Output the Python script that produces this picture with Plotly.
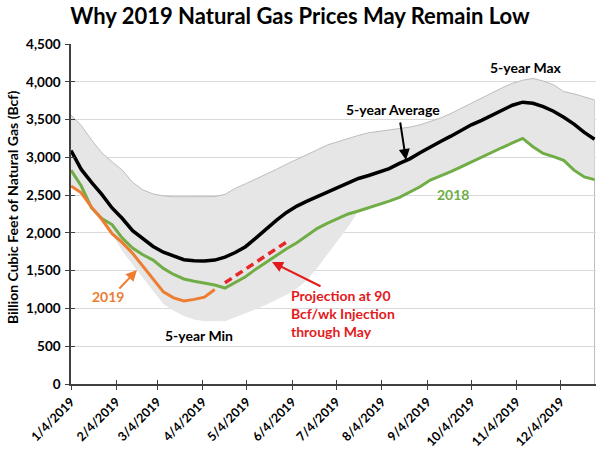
import pandas as pd
import plotly.graph_objects as go

# ---------------- data (Bcf, weekly, Fridays) ----------------
week_start = "2019-01-04"
n_weeks = 52
weeks = pd.date_range(week_start, periods=n_weeks, freq="7D")

max5 = [3560, 3420, 3230, 3060, 2940, 2830, 2670, 2570, 2515, 2490, 2478, 2478, 2478, 2478,
        2480, 2510, 2589, 2650, 2710, 2780, 2840, 2910, 2970, 3030, 3100, 3165, 3210, 3245,
        3290, 3325, 3345, 3360, 3375, 3400, 3430, 3470, 3520, 3580, 3650, 3720, 3785, 3860,
        3920, 3980, 4020, 4044, 4010, 3960, 3870, 3840, 3800, 3760]
min5 = [2640, 2545, 2360, 2180, 1980, 1760, 1580, 1400, 1230, 1060, 970, 900, 855, 830,
        835, 830, 880, 935, 990, 1050, 1110, 1180, 1260, 1380, 1540, 1720, 1900, 2080,
        2290, 2330, 2380, 2420, 2470, 2540, 2610, 2700, 2750, 2810, 2875, 2940, 3010, 3070,
        3130, 3190, 3250, 3140, 3052, 3010, 2960, 2830, 2740, 2705]
avg5 = [3090, 2840, 2670, 2510, 2330, 2190, 2030, 1920, 1820, 1745, 1690, 1645, 1630, 1627,
        1640, 1680, 1740, 1817, 1930, 2050, 2165, 2270, 2355, 2420, 2480, 2530, 2590, 2660,
        2720, 2760, 2800, 2850, 2920, 2980, 3060, 3140, 3210, 3280, 3360, 3430, 3490, 3560,
        3630, 3690, 3730, 3715, 3670, 3610, 3530, 3440, 3330, 3240]
y2018 = [2830, 2620, 2330, 2190, 2110, 1930, 1800, 1710, 1640, 1530, 1450, 1390, 1360, 1340,
         1310, 1270, 1340, 1420, 1520, 1610, 1710, 1790, 1870, 1970, 2060, 2130, 2195, 2250,
         2290, 2330, 2380, 2420, 2470, 2540, 2610, 2700, 2750, 2810, 2875, 2940, 3010, 3070,
         3130, 3190, 3250, 3140, 3052, 3010, 2960, 2830, 2740, 2705]
y2019 = [2620, 2530, 2340, 2180, 1990, 1870, 1730, 1560, 1400, 1220, 1140, 1100, 1120, 1150, 1250]
projection = [1340, 1430, 1520, 1610, 1700, 1790, 1880]   # 90 Bcf/wk, Apr 19 - May 31

x_ticks = ["2019-%02d-04" % m for m in range(1, 13)]
x_tick_labels = ["%d/4/2019" % m for m in range(1, 13)]
y_ticks = [0, 500, 1000, 1500, 2000, 2500, 3000, 3500, 4000, 4500]

# ---------------- styling ----------------
FONT = "Lato"
W, H = 600, 455
L, R, T, B = 71, 4, 44, 71
PW, PH = W - L - R, H - T - B


def px(x, y):
    return (x - L) / PW, (H - B - y) / PH


fig = go.Figure()
fig.add_trace(go.Scatter(x=weeks, y=min5, mode="lines", line=dict(width=0, color="#e6e6e6"),
                         hoverinfo="skip", showlegend=False))
fig.add_trace(go.Scatter(x=weeks, y=max5, mode="lines", fill="tonexty", fillcolor="#e6e6e6",
                         line=dict(width=1, color="#bdbdbd"), showlegend=False))
fig.add_trace(go.Scatter(x=weeks, y=avg5, mode="lines", line=dict(width=3.5, color="#000000"),
                         showlegend=False))
fig.add_trace(go.Scatter(x=weeks, y=y2018, mode="lines", line=dict(width=3, color="#70ad47"),
                         showlegend=False))
fig.add_trace(go.Scatter(x=weeks[:len(y2019)], y=y2019, mode="lines",
                         line=dict(width=3, color="#ed7d31"), showlegend=False))
proj_start = len(y2019)
fig.add_trace(go.Scatter(x=weeks[proj_start:proj_start + len(projection)], y=projection,
                         mode="lines", line=dict(width=3.5, color="#e8262a", dash="8px,5px"),
                         showlegend=False))
# invisible trace to activate overlay axes (for crossing tick marks)
fig.add_trace(go.Scatter(x=[weeks[0]], y=[0], xaxis="x2", yaxis="y2", mode="markers",
                         marker=dict(size=1, opacity=0), hoverinfo="skip", showlegend=False))

# right-hand edge of the band area
fig.add_shape(type="line", xref="x", yref="y", x0=weeks[-1], x1=weeks[-1], y0=0, y1=max5[-1],
              line=dict(color="#bdbdbd", width=1), layer="below")

xrange = [weeks[0], weeks[-1] + pd.Timedelta(days=1)]
axis_col = "#404040"
fig.update_layout(
    width=W, height=H,
    margin=dict(l=L, r=R, t=T, b=B),
    paper_bgcolor="white", plot_bgcolor="white",
    font=dict(family=FONT, color="black"),
    title=dict(text="Why 2019 Natural Gas Prices May Remain Low", x=0.5, xanchor="center",
               y=1 - 16 / H, yanchor="middle",
               font=dict(size=22, family=FONT, weight="bold", color="black")),
    xaxis=dict(range=xrange, tickvals=x_ticks, ticktext=x_tick_labels, tickangle=-45,
               showgrid=False, showline=True, linecolor=axis_col, linewidth=1.5,
               ticks="outside", ticklen=4, tickcolor=axis_col, tickwidth=1.3,
               tickfont=dict(size=12.5, family=FONT, weight="bold", color="black"),
               zeroline=False),
    yaxis=dict(range=[0, 4500], tickvals=y_ticks, tickformat=",d", showgrid=True,
               gridcolor="#d9d9d9", gridwidth=1, showline=True, linecolor=axis_col,
               linewidth=1.5, ticks="outside", ticklen=4, tickcolor=axis_col, tickwidth=1.3,
               ticklabelstandoff=2,
               tickfont=dict(size=13.5, family=FONT, weight="bold", color="black"),
               zeroline=False),
    xaxis2=dict(overlaying="x", range=xrange, tickvals=x_ticks, showticklabels=False,
                showgrid=False, showline=False, ticks="inside", ticklen=4, tickcolor=axis_col,
                tickwidth=1.3, zeroline=False),
    yaxis2=dict(overlaying="y", range=[0, 4500], tickvals=y_ticks, showticklabels=False,
                showgrid=False, showline=False, ticks="inside", ticklen=4, tickcolor=axis_col,
                tickwidth=1.3, zeroline=False, side="left"),
)


def label(text, x, y, color="black", size=14, xanchor="center"):
    xp, yp = px(x, y)
    fig.add_annotation(xref="paper", yref="paper", x=xp, y=yp, text=text, showarrow=False,
                       xanchor=xanchor, yanchor="middle", align="left",
                       font=dict(size=size, family=FONT, weight="bold", color=color))


def arrow(x_head, y_head, x_tail, y_tail, color):
    xh, yh = px(x_head, y_head)
    fig.add_annotation(xref="paper", yref="paper", x=xh, y=yh, text="", showarrow=True,
                       ax=x_tail - x_head, ay=y_tail - y_head, arrowhead=2, arrowsize=1.1,
                       arrowwidth=2, arrowcolor=color)


# y axis title
xa, ya = px(13, 208)
fig.add_annotation(xref="paper", yref="paper", x=xa, y=ya, text="Billion Cubic Feet of Natural Gas (Bcf)",
                   textangle=-90, showarrow=False, xanchor="center", yanchor="middle",
                   font=dict(size=14, family=FONT, weight="bold", color="black"))

label("5-year Max", 526, 67)
label("5-year Average", 393, 110)
arrow(406, 160, 400, 121, "black")
label("2018", 453, 194, color="#70ad47")
label("2019", 108, 296, color="#ed7d31")
arrow(137, 270, 118, 290, "#ed7d31")
label("5-year Min", 199, 335)
label("Projection at 90<br>Bcf/wk Injection<br>through May", 289, 313, color="#e31a1c",
      xanchor="left")
arrow(272, 262, 322, 287, "#e31a1c")

fig.write_html("out.html")
